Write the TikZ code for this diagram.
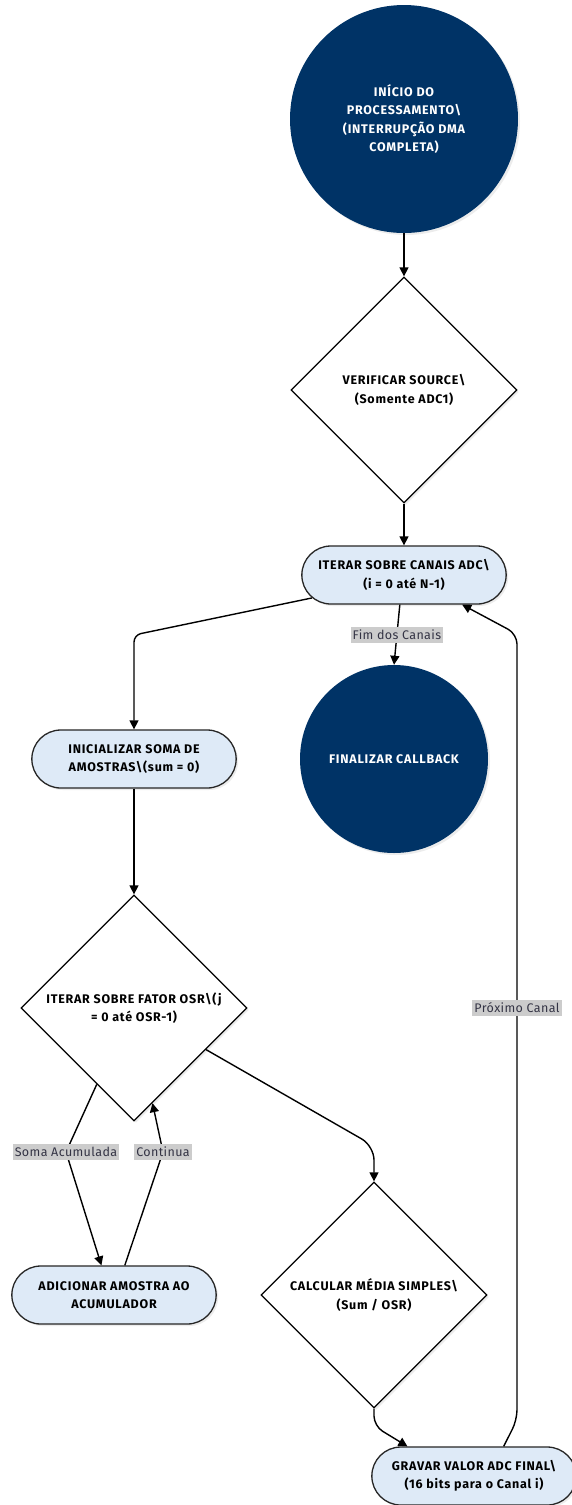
\documentclass[tikz,border=0pt]{standalone}
\usepackage{fontspec}
\setmainfont{Fira Sans}
\newfontfamily\nodefont[LetterSpace=6]{Fira Sans}
\newfontfamily\labelfont[LetterSpace=3]{Fira Sans}
\usetikzlibrary{shapes.geometric,shapes.misc,arrows.meta,shadows}
\definecolor{startnavy}{RGB}{0,51,102}
\definecolor{stepblue}{RGB}{222,234,247}
\definecolor{labelgray}{RGB}{204,204,204}
\definecolor{labeltext}{RGB}{51,51,68}

\begin{document}
\begin{tikzpicture}[
    x=1pt, y=-1pt,
    nodetext/.style={font=\nodefont\bfseries\fontsize{12.5}{18.5}\selectfont, align=center},
    softshadow/.style={drop shadow={opacity=0.15, shadow xshift=2pt, shadow yshift=-2pt}},
    terminal/.style={circle, fill=startnavy, text=white, inner sep=0pt, nodetext, softshadow},
    decision/.style={diamond, aspect=1, draw=black, line width=1.3pt, fill=white, inner sep=0pt, minimum width=226pt, minimum height=226pt, nodetext, softshadow},
    process/.style={rounded rectangle, draw=black!85, line width=1.3pt, fill=stepblue, minimum width=211pt, minimum height=58pt, nodetext, softshadow},
    flow/.style={-{Triangle[length=9pt,width=9pt]}, line width=1.4pt},
    edgelabel/.style={fill=labelgray, text=labeltext, inner xsep=2pt, inner ysep=3pt, font=\labelfont\fontsize{12.5}{14}\selectfont}
]

% Canvas
\fill[white] (0,0) rectangle (571,1505);
\useasboundingbox (0,0) rectangle (571,1505);

% Start of processing
\node[terminal, minimum size=228pt] (start) at (404,119) {INÍCIO DO\\PROCESSAMENTO\textbackslash\\(INTERRUPÇÃO DMA\\COMPLETA)};

% Source check
\node[decision] (verify) at (404,390) {VERIFICAR SOURCE\textbackslash\\(Somente ADC1)};

% Channel loop
\node[process] (chan) at (404,575) {ITERAR SOBRE CANAIS ADC\textbackslash\\(i = 0 até N-1)};

% End
\node[terminal, minimum size=188pt] (finish) at (394,759) {FINALIZAR CALLBACK};

% Sum init
\node[process] (init) at (134,759) {INICIALIZAR SOMA DE\\AMOSTRAS\textbackslash(sum = 0)};

% OSR loop
\node[decision] (osr) at (134,1008) {ITERAR SOBRE FATOR OSR\textbackslash(j\\= 0 até OSR-1)};

% Accumulate
\node[process] (add) at (114,1295) {ADICIONAR AMOSTRA AO\\ACUMULADOR};

% Average
\node[decision] (calc) at (374,1295) {CALCULAR MÉDIA SIMPLES\textbackslash\\(Sum / OSR)};

% Store result
\node[process] (rec) at (474,1476) {GRAVAR VALOR ADC FINAL\textbackslash\\(16 bits para o Canal i)};

% Bend points
\coordinate (k1) at (134,635);
\coordinate (k2) at (66,1152);
\coordinate (k3) at (163,1152);
\coordinate (k4) at (374,1146);
\coordinate (k5) at (374,1426);
\coordinate (k6) at (517,1420);
\coordinate (k7) at (517,634);
\coordinate (k8) at (517,1008);

% Connectors
\draw[flow] (start.south) -- (verify.north);
\draw[flow] (verify.south) -- (chan.north);
\draw[flow] (chan.262) -- node[edgelabel] (lblend) {Fim dos Canais} (finish.north);
\draw[flow, rounded corners=7pt] (chan.194) -- (k1) -- (init.north);
\draw[flow] (init.south) -- (osr.north);
\draw[flow] (osr.244) -- (k2) -- (add.113);
\draw[flow] (add.70) -- (k3) -- (osr.281);
\draw[flow, rounded corners=14pt] (osr.330) -- (k4) -- (calc.north);
\draw[flow, rounded corners=10pt] (calc.south) -- (k5) -- (rec.156);
\draw[flow, rounded corners=10pt] (rec.45) -- (k6) -- (k7) -- (chan.333);

% Edge labels
\node[edgelabel] (lblsum) at (k2) {Soma Acumulada};
\node[edgelabel] (lblcont) at (k3) {Continua};
\node[edgelabel] (lblnext) at (k8) {Próximo Canal};

\end{tikzpicture}
\end{document}
